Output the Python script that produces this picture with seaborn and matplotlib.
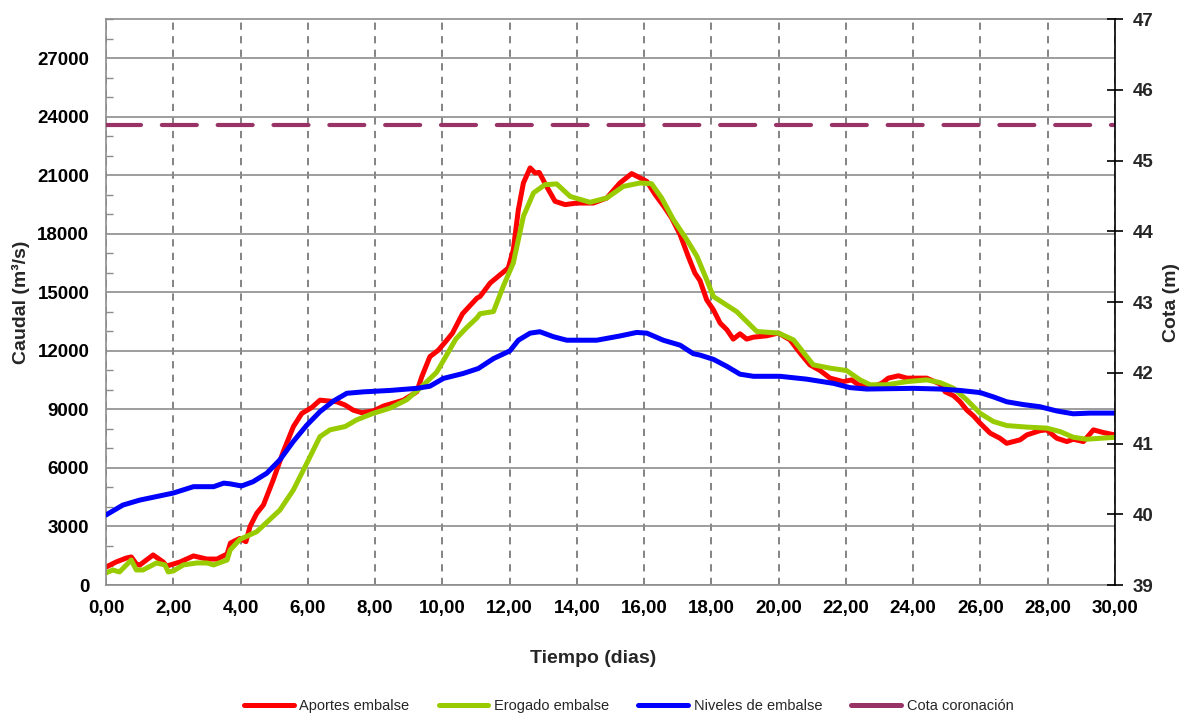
import numpy as np
import pandas as pd
import matplotlib
matplotlib.use("Agg")
import matplotlib.pyplot as plt
from matplotlib.ticker import MultipleLocator, FuncFormatter
import seaborn as sns

sns.set_style("white")
plt.rcParams["font.family"] = ["Liberation Sans", "DejaVu Sans"]

# Caudal de aportes al embalse (m3/s)
t_aportes = [0, 0.3, 0.6, 0.75, 0.9, 1.0, 1.4, 1.7, 1.8, 2.2, 2.6, 3.0, 3.3, 3.6, 3.7, 3.98,
             4.16, 4.28, 4.48, 4.68, 4.97, 5.27, 5.57, 5.82, 6.12, 6.36, 6.86, 7.11, 7.35,
             7.6, 7.95, 8.25, 8.84, 9.24, 9.39, 9.63, 9.88, 10.13, 10.3, 10.6, 11.03, 11.12,
             11.42, 11.72, 11.96, 12.11, 12.26, 12.41, 12.61, 12.76, 12.88, 13.1, 13.35,
             13.65, 14.0, 14.49, 14.89, 15.28, 15.63, 15.88, 16.08, 16.33, 16.62, 16.82,
             17.07, 17.31, 17.51, 17.66, 17.86, 18.06, 18.26, 18.46, 18.65, 18.85, 19.05,
             19.25, 19.65, 19.99, 20.34, 20.64, 20.93, 21.23, 21.53, 21.92, 22.17, 22.37,
             22.82, 23.07, 23.26, 23.56, 23.81, 24.4, 24.8, 24.95, 25.2, 25.39, 25.59,
             25.79, 25.99, 26.29, 26.58, 26.78, 27.18, 27.38, 27.77, 27.97, 28.27, 28.57,
             28.76, 29.06, 29.36, 29.66, 30.0]
q_aportes = [920, 1180, 1380, 1440, 1080, 1020, 1540, 1180, 970, 1180, 1490, 1330, 1330, 1590,
             2150, 2390, 2220, 2990, 3670, 4100, 5380, 6830, 8110, 8790, 9100, 9470, 9390,
             9220, 8960, 8830, 8920, 9170, 9470, 9900, 10680, 11700, 12030, 12540, 12900,
             13900, 14700, 14780, 15470, 15900, 16240, 17180, 19230, 20600, 21370, 21110,
             21140, 20420, 19660, 19490, 19570, 19570, 19830, 20600, 21080, 20860, 20680,
             20000, 19320, 18800, 17950, 16840, 15980, 15600, 14610, 14100, 13420, 13080,
             12600, 12870, 12600, 12700, 12770, 12910, 12560, 11880, 11280, 10990, 10600,
             10420, 10510, 10260, 10170, 10340, 10600, 10720, 10600, 10600, 10300, 9900,
             9700, 9400, 8970, 8670, 8290, 7780, 7520, 7260, 7440, 7690, 7910, 7950, 7520,
             7350, 7470, 7350, 7950, 7810, 7690]

# Caudal erogado por el embalse (m3/s)
t_erogado = [0, 0.2, 0.4, 0.75, 0.9, 1.1, 1.5, 1.75, 1.85, 2.0, 2.3, 2.7, 3.0, 3.2, 3.6, 3.69,
             3.98, 4.48, 5.17, 5.57, 5.97, 6.36, 6.66, 7.11, 7.45, 7.95, 8.44, 8.94, 9.34,
             9.83, 10.1, 10.4, 10.7, 11.03, 11.12, 11.52, 11.81, 12.11, 12.41, 12.71, 13.05,
             13.4, 13.8, 14.39, 14.89, 15.38, 15.88, 16.22, 16.52, 16.87, 17.27, 17.57,
             17.86, 18.06, 18.75, 19.35, 19.99, 20.44, 21.03, 21.53, 22.02, 22.42, 22.72,
             23.21, 23.81, 24.4, 24.8, 25.2, 25.59, 25.99, 26.38, 26.78, 27.38, 27.97, 28.37,
             28.76, 29.16, 30.0]
q_erogado = [620, 770, 670, 1280, 770, 770, 1130, 1030, 670, 720, 1030, 1130, 1130, 1030, 1280,
             1790, 2340, 2730, 3840, 4870, 6240, 7600, 7950, 8120, 8460, 8800, 9060, 9490,
             10090, 10900, 11700, 12600, 13150, 13690, 13900, 14010, 15300, 16500, 18890,
             20090, 20510, 20550, 19910, 19610, 19830, 20420, 20600, 20560, 19830, 18720,
             17690, 16840, 15640, 14780, 14010, 12990, 12910, 12560, 11280, 11110, 10990,
             10510, 10260, 10260, 10420, 10510, 10370, 10080, 9490, 8800, 8380, 8170, 8090,
             8040, 7860, 7570, 7470, 7570]

# Nivel del embalse (m)
t_nivel = [0, 0.5, 1.0, 2.0, 2.6, 3.2, 3.5, 3.69, 4.03, 4.37, 4.78, 5.17, 5.57, 5.97, 6.36,
           6.76, 7.16, 7.65, 8.44, 9.24, 9.63, 10.03, 10.62, 11.07, 11.52, 12.01, 12.26,
           12.61, 12.9, 13.3, 13.7, 14.59, 15.28, 15.78, 16.08, 16.57, 17.07, 17.46, 17.66,
           18.06, 18.46, 18.85, 19.25, 20.04, 20.83, 21.63, 22.12, 22.62, 24.0, 24.8, 25.39,
           25.99, 26.38, 26.78, 27.28, 27.77, 28.27, 28.76, 29.26, 30.0]
h_nivel = [39.99, 40.13, 40.20, 40.30, 40.39, 40.39, 40.44, 40.43, 40.40, 40.46, 40.58, 40.77,
           41.03, 41.26, 41.45, 41.60, 41.71, 41.73, 41.75, 41.78, 41.81, 41.92, 41.99, 42.06,
           42.20, 42.31, 42.46, 42.56, 42.58, 42.51, 42.46, 42.46, 42.52, 42.57, 42.56, 42.46,
           42.39, 42.27, 42.25, 42.19, 42.09, 41.98, 41.95, 41.95, 41.91, 41.85, 41.79, 41.77,
           41.78, 41.77, 41.75, 41.72, 41.66, 41.59, 41.55, 41.52, 41.46, 41.42, 41.43, 41.43]

# Cota de coronación de la presa (m)
t_cota = [0, 30]
h_cota = [45.5, 45.5]

caudal_ticks = list(range(0, 27001, 3000))
cota_ticks = list(range(39, 48))
dias_ticks = list(range(0, 31, 2))

df_aportes = pd.DataFrame({"t": t_aportes, "q": q_aportes})
df_erogado = pd.DataFrame({"t": t_erogado, "q": q_erogado})
df_nivel = pd.DataFrame({"t": t_nivel, "h": h_nivel})
df_cota = pd.DataFrame({"t": t_cota, "h": h_cota})

RED = "#FF0000"
GREEN = "#99CC00"
BLUE = "#0000FF"
PLUM = "#993366"
GRID = "#8C8C8C"

fig = plt.figure(figsize=(11.82, 7.28), dpi=100)
ax = fig.add_axes([0.0897, 0.1964, 0.8536, 0.7775])
ax2 = ax.twinx()

line_kw = dict(lw=3.6, solid_capstyle="round", solid_joinstyle="round", legend=False)
sns.lineplot(data=df_aportes, x="t", y="q", ax=ax, color=RED, label="Aportes embalse", **line_kw)
sns.lineplot(data=df_erogado, x="t", y="q", ax=ax, color=GREEN, label="Erogado embalse", **line_kw)
sns.lineplot(data=df_nivel, x="t", y="h", ax=ax2, color=BLUE, label="Niveles de embalse", **line_kw)
sns.lineplot(data=df_cota, x="t", y="h", ax=ax2, color=PLUM, lw=3.0,
             label="Cota coronación", legend=False)
cota_line = ax2.get_lines()[-1]
cota_line.set_dashes([8.4, 5.0])
cota_line.set_dash_capstyle("round")

# Eje izquierdo: caudal
ax.set_xlim(0, 30)
ax.set_ylim(0, 29000)
ax.set_yticks(caudal_ticks)
ax.yaxis.set_minor_locator(MultipleLocator(1000))
ax.set_xticks(dias_ticks)
ax.xaxis.set_major_formatter(FuncFormatter(lambda v, p: f"{v:.2f}".replace(".", ",")))

ax.grid(axis="y", color=GRID, lw=1.2, ls="-")
ax.grid(axis="x", color="#7A7A7A", lw=1.3, ls=(0, (4.0, 3.5)))
ax.set_axisbelow(True)

for side in ["left", "top", "bottom"]:
    ax.spines[side].set_color(GRID)
    ax.spines[side].set_linewidth(1.2)
ax.spines["right"].set_visible(False)

ax.tick_params(axis="y", which="major", direction="in", length=0, pad=12,
               labelsize=13.5, colors="black")
ax.tick_params(axis="y", which="minor", direction="in", length=5, width=1, color=GRID)
ax.tick_params(axis="x", which="major", direction="in", length=5, width=1, color=GRID,
               pad=11, labelsize=13.5, labelcolor="black")
for lbl in ax.get_xticklabels() + ax.get_yticklabels():
    lbl.set_fontweight("bold")

ax.set_xlabel("Tiempo (dias)", fontsize=14, fontweight="bold")
ax.set_ylabel("Caudal (m³/s)", fontsize=14, fontweight="bold")
ax.xaxis.set_label_coords(0.483, -0.115)
ax.yaxis.set_label_coords(-0.075, 0.50)

# Eje derecho: cota
ax2.set_ylim(39, 47)
ax2.set_yticks(cota_ticks)
for side in ["left", "top", "bottom"]:
    ax2.spines[side].set_visible(False)
ax2.spines["right"].set_color("black")
ax2.spines["right"].set_linewidth(1.2)
ax2.tick_params(axis="y", which="major", direction="inout", length=12, width=1.2,
                color="black", pad=7, labelsize=13.5)
for lbl in ax2.get_yticklabels():
    lbl.set_fontweight("bold")
ax2.set_ylabel("Cota (m)", fontsize=14, fontweight="bold")
ax2.yaxis.set_label_coords(1.0476, 0.50)

labels = ["Aportes embalse", "Erogado embalse", "Niveles de embalse", "Cota coronación"]
leg_handles = [plt.Line2D([], [], color=c, lw=3.6, solid_capstyle="round")
               for c in [RED, GREEN, BLUE, PLUM]]
fig.legend(leg_handles, labels, loc="center", bbox_to_anchor=(0.532, 0.030), ncol=4,
           frameon=False, fontsize=10.5, handlelength=3.4, handletextpad=0.4,
           columnspacing=2.0)

fig.savefig("out.png", dpi=100)
